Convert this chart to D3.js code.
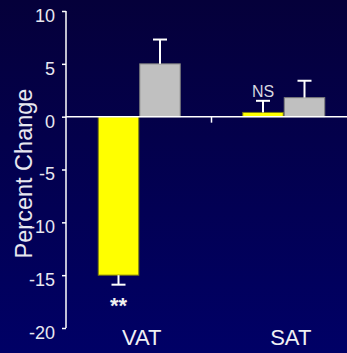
<!DOCTYPE html>
<html>
<head>
<meta charset="utf-8">
<script src="https://cdn.jsdelivr.net/npm/d3@7"></script>
<style>
  html, body { margin: 0; padding: 0; background: #000050; }
  svg { display: block; font-family: "Liberation Sans", Arial, sans-serif; }
</style>
</head>
<body>
<svg id="chart" width="347" height="353"></svg>
<script>
// Fat depots and the two groups compared within each
const categories = ["VAT", "SAT"];
const seriesKeys = ["A", "B"];
// Mean percent change per depot, one array per group
const meanA = [-15.0, 0.4];
const meanB = [5.0, 1.8];
// Standard error for each mean
const errA = [0.9, 1.1];
const errB = [2.3, 1.6];
// Significance marks shown next to group A
const markA = ["**", "NS"];
const yTicks = [10, 5, 0, -5, -10, -15, -20];

const W = 347, H = 353;
const svg = d3.select("#chart");

// Background: dark navy fading to deeper blue
const defs = svg.append("defs");
const grad = defs.append("linearGradient")
  .attr("id", "bg").attr("x1", 0).attr("y1", 0).attr("x2", 0).attr("y2", 1);
grad.append("stop").attr("offset", "0%").attr("stop-color", "#05003a");
grad.append("stop").attr("offset", "100%").attr("stop-color", "#000066");
svg.append("rect").attr("width", W).attr("height", H).attr("fill", "url(#bg)");

const rows = categories.map((c, i) => ({
  cat: c,
  values: [
    { key: "A", v: meanA[i], e: errA[i], mark: markA[i] },
    { key: "B", v: meanB[i], e: errB[i], mark: null }
  ]
}));

const y = d3.scaleLinear().domain([-20, 10]).range([328, 11]);
const x0 = d3.scaleBand().domain(categories).range([67, 356]);
const x1 = d3.scaleBand().domain(seriesKeys).range([0, x0.bandwidth()])
  .paddingInner(0).paddingOuter(0.741);

const fills = { A: "#ffff00", B: "#c0c0c0" };
const strokes = { A: "#7a7a10", B: "#7c7c7c" };

// Bars
const groups = svg.append("g").selectAll("g").data(rows).join("g")
  .attr("transform", d => `translate(${x0(d.cat)},0)`);

groups.selectAll("rect").data(d => d.values).join("rect")
  .attr("x", d => x1(d.key) + 0.5)
  .attr("width", x1.bandwidth() - 1)
  .attr("y", d => Math.min(y(d.v), y(0)))
  .attr("height", d => Math.abs(y(d.v) - y(0)))
  .attr("fill", d => fills[d.key])
  .attr("stroke", d => strokes[d.key])
  .attr("stroke-width", 1);

// Error bars: stem beyond the bar end plus a cap
const capW = 14;
const eb = groups.selectAll("g.err").data(d => d.values).join("g").attr("class", "err");
eb.append("line")
  .attr("x1", d => x1(d.key) + x1.bandwidth() / 2)
  .attr("x2", d => x1(d.key) + x1.bandwidth() / 2)
  .attr("y1", d => y(d.v))
  .attr("y2", d => y(d.v + Math.sign(d.v) * d.e))
  .attr("stroke", "#ffffff").attr("stroke-width", 2);
eb.append("line")
  .attr("x1", d => x1(d.key) + x1.bandwidth() / 2 - capW / 2)
  .attr("x2", d => x1(d.key) + x1.bandwidth() / 2 + capW / 2)
  .attr("y1", d => y(d.v + Math.sign(d.v) * d.e))
  .attr("y2", d => y(d.v + Math.sign(d.v) * d.e))
  .attr("stroke", "#ffffff").attr("stroke-width", 2);

// Significance labels
groups.selectAll("text.mark").data(d => d.values.filter(v => v.mark)).join("text")
  .attr("class", "mark")
  .attr("x", d => x1(d.key) + x1.bandwidth() / 2)
  .attr("y", d => d.v < 0 ? y(d.v - d.e) + 28 : y(d.v + d.e) - 4)
  .attr("text-anchor", "middle")
  .attr("fill", d => d.v < 0 ? "#f0f0f0" : "#d8d8e0")
  .attr("font-size", d => d.v < 0 ? 22 : 16)
  .attr("font-weight", d => d.v < 0 ? "bold" : "normal")
  .text(d => d.mark);

// Zero baseline across the plot with a tick between the depots
svg.append("line")
  .attr("x1", 66).attr("x2", W).attr("y1", y(0)).attr("y2", y(0))
  .attr("stroke", "#ffffff").attr("stroke-width", 1.5);
svg.append("line")
  .attr("x1", x0("SAT")).attr("x2", x0("SAT"))
  .attr("y1", y(0)).attr("y2", y(0) + 6)
  .attr("stroke", "#ffffff").attr("stroke-width", 1.5);

// Y axis
const yAxis = svg.append("g").attr("transform", "translate(66,0)")
  .call(d3.axisLeft(y).tickValues(yTicks).tickSize(4).tickPadding(7)
    .tickFormat(d => String(d)));
yAxis.select(".domain").attr("stroke", "#ffffff").attr("stroke-width", 1.5)
  .attr("d", `M0,${y(10)}V${y(-20)}`);
yAxis.selectAll(".tick line").attr("stroke", "#ffffff").attr("stroke-width", 1.5);
yAxis.selectAll(".tick text")
  .attr("fill", "#e8e8f0").attr("font-size", 18)
  .attr("font-family", "Liberation Sans, Arial, sans-serif")
  .attr("dy", null).attr("y", 10.4);
yAxis.attr("font-size", null);

// Y axis title
svg.append("text")
  .attr("transform", `translate(32,${173.5}) rotate(-90)`)
  .attr("text-anchor", "middle")
  .attr("fill", "#e8e8f0").attr("font-size", 23.5)
  .text("Percent Change");

// Category labels
svg.append("g").selectAll("text").data(categories).join("text")
  .attr("x", d => x0(d) + x0.bandwidth() / 2 + (d === "SAT" ? 7 : 2.5))
  .attr("y", 345)
  .attr("text-anchor", "middle")
  .attr("fill", "#f0f0f5").attr("font-size", 22)
  .text(d => d);
</script>
</body>
</html>
